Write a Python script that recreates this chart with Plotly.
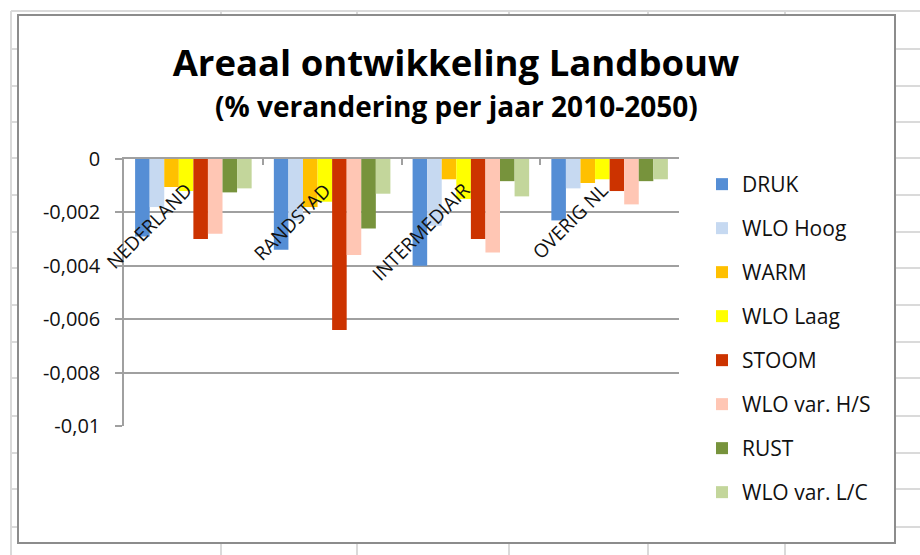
import plotly.graph_objects as go

categories = ["NEDERLAND", "RANDSTAD", "INTERMEDIAIR", "OVERIG NL"]

series_names = ["DRUK", "WLO Hoog", "WARM", "WLO Laag", "STOOM",
                "WLO var. H/S", "RUST", "WLO var. L/C"]

druk = [-0.0029, -0.0034, -0.0040, -0.0023]
wlo_hoog = [-0.0018, -0.0023, -0.0025, -0.0011]
warm = [-0.00105, -0.0018, -0.00076, -0.0009]
wlo_laag = [-0.0012, -0.0016, -0.0015, -0.00076]
stoom = [-0.0030, -0.0064, -0.0030, -0.0012]
wlo_hs = [-0.0028, -0.0036, -0.0035, -0.0017]
rust = [-0.00125, -0.0026, -0.00083, -0.00083]
wlo_lc = [-0.0011, -0.0013, -0.0014, -0.00076]

series_values = [druk, wlo_hoog, warm, wlo_laag, stoom, wlo_hs, rust, wlo_lc]

y_tickvals = [0, -0.002, -0.004, -0.006, -0.008, -0.01]
y_ticktext = ["0", "-0,002", "-0,004", "-0,006", "-0,008", "-0,01"]

title_text = "Areaal ontwikkeling Landbouw"
subtitle_text = "(% verandering per jaar 2010-2050)"

colors = ["#558ED5", "#C6D9F1", "#FFC000", "#FFFF00", "#CC3300",
          "#FFC6B4", "#77933C", "#C3D69B"]

W, H = 920, 555
PL, PR, PT, PB = 124, 679, 159, 426  # plot area in pixels


def px(x):
    return (x - PL) / (PR - PL)


def py(y):
    return (PB - y) / (PB - PT)


FONT = "'Open Sans', Lato, sans-serif"

fig = go.Figure()
for name, vals, col in zip(series_names, series_values, colors):
    fig.add_trace(go.Bar(
        x=categories, y=vals, name=name, legendgroup=name,
        marker=dict(color=col, line=dict(width=0)),
    ))

shapes = []
grid_light = "#DADADA"
# spreadsheet background lines
shapes.append(dict(type="line", xref="paper", yref="paper",
                   x0=px(11), x1=px(920), y0=py(11), y1=py(11),
                   line=dict(color=grid_light, width=2), layer="below"))
shapes.append(dict(type="line", xref="paper", yref="paper",
                   x0=px(11), x1=px(11), y0=py(11), y1=py(555),
                   line=dict(color=grid_light, width=2), layer="below"))
for ry in [49, 86, 122, 158, 195, 232, 268, 305, 342, 378, 416, 453, 489, 527]:
    shapes.append(dict(type="line", xref="paper", yref="paper",
                       x0=px(11), x1=px(18), y0=py(ry), y1=py(ry),
                       line=dict(color=grid_light, width=2), layer="below"))
    shapes.append(dict(type="line", xref="paper", yref="paper",
                       x0=px(895), x1=px(920), y0=py(ry), y1=py(ry),
                       line=dict(color=grid_light, width=2), layer="below"))
for cx in [221, 357, 509, 648, 785]:
    shapes.append(dict(type="line", xref="paper", yref="paper",
                       x0=px(cx), x1=px(cx), y0=py(11), y1=py(15),
                       line=dict(color=grid_light, width=2), layer="below"))
    shapes.append(dict(type="line", xref="paper", yref="paper",
                       x0=px(cx), x1=px(cx), y0=py(543), y1=py(555),
                       line=dict(color=grid_light, width=2), layer="below"))
# chart area border
shapes.append(dict(type="rect", xref="paper", yref="paper",
                   x0=px(18), x1=px(895), y0=py(15), y1=py(543),
                   line=dict(color="#8C8C8C", width=2), layer="below"))

annotations = []
for c in categories:
    annotations.append(dict(
        x=c, y=0, xref="x", yref="y", text=c, showarrow=False,
        textangle=-45, xanchor="right", yanchor="top",
        xshift=7, yshift=-16,
        font=dict(family=FONT, size=19, color="#111111"),
    ))
annotations.append(dict(
    x=px(456), y=py(106), xref="paper", yref="paper",
    text="<b>" + subtitle_text + "</b>", showarrow=False,
    xanchor="center", yanchor="middle",
    font=dict(family=FONT, size=28, color="#000000"),
))

fig.update_layout(
    width=W, height=H,
    margin=dict(l=PL, r=W - PR, t=PT, b=H - PB, pad=0),
    paper_bgcolor="white", plot_bgcolor="white",
    title=dict(text="<b>" + title_text + "</b>", x=456 / W, xanchor="center",
               y=1 - 63 / H, yanchor="middle", xref="container", yref="container",
               font=dict(family=FONT, size=36.5, color="#000000")),
    barmode="group", bargap=0.16, bargroupgap=0,
    font=dict(family=FONT, color="#111111"),
    legend=dict(x=px(702), xanchor="left", y=py(164), yanchor="top",
                font=dict(family=FONT, size=21, color="#111111"),
                tracegroupgap=13.7, itemwidth=30, bgcolor="rgba(0,0,0,0)",
                maxheight=560),
    shapes=shapes,
    annotations=annotations,
    showlegend=True,
)

fig.update_xaxes(
    side="top", showline=True, linecolor="#A0A0A0", linewidth=1.5,
    ticks="inside", ticklen=6, tickcolor="#A0A0A0", tickwidth=1.5,
    tickson="boundaries", showticklabels=False, showgrid=False,
    range=[-0.5, 3.5], zeroline=False,
)
fig.update_yaxes(
    range=[-0.01, 0], tickvals=y_tickvals, ticktext=y_ticktext,
    showgrid=True, gridcolor="#A0A0A0", gridwidth=1.5,
    showline=True, linecolor="#A0A0A0", linewidth=1.5,
    ticks="outside", ticklen=7, tickcolor="#A0A0A0", tickwidth=1.5,
    ticklabelstandoff=11, zeroline=False,
    tickfont=dict(family=FONT, size=20, color="#111111"),
)

fig.write_html("out.html",
               config={"displayModeBar": False},
               post_script="document.body.style.margin='0';"
                           "document.body.style.overflow='hidden';")
